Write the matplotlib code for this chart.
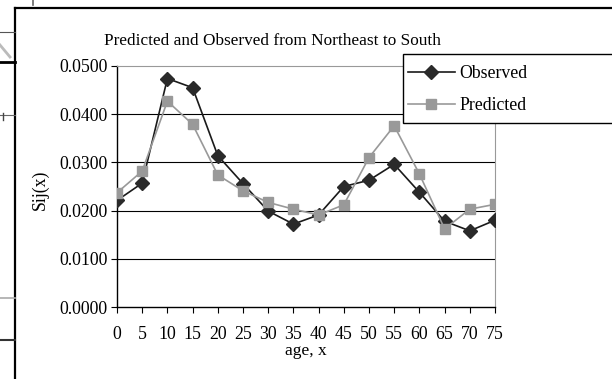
import matplotlib.pyplot as plt
from matplotlib.lines import Line2D
from matplotlib.patches import Rectangle

plt.rcParams['font.family'] = ['Liberation Serif', 'DejaVu Serif']

ages = [0, 5, 10, 15, 20, 25, 30, 35, 40, 45, 50, 55, 60, 65, 70, 75]
observed = [0.0221, 0.0257, 0.0474, 0.0455, 0.0314, 0.0256, 0.0199, 0.0172,
            0.0191, 0.0250, 0.0263, 0.0296, 0.0238, 0.0178, 0.0158, 0.0180]
predicted = [0.0237, 0.0282, 0.0427, 0.0379, 0.0274, 0.0241, 0.0217, 0.0203,
             0.0191, 0.0212, 0.0310, 0.0376, 0.0276, 0.0162, 0.0203, 0.0213]
yticks = [0.0, 0.01, 0.02, 0.03, 0.04, 0.05]

W, H = 612, 379
fig = plt.figure(figsize=(W / 100, H / 100), dpi=100)
fig.patch.set_facecolor('white')

def px(x, y):
    return x / W, 1 - y / H

# chart frame and the bits of the window behind it
fig.add_artist(Line2D([15 / W, 15 / W], [0, 1 - 7.5 / H], transform=fig.transFigure, color='black', lw=1.6))
fig.add_artist(Line2D([15 / W, 1], [1 - 7.5 / H, 1 - 7.5 / H], transform=fig.transFigure, color='black', lw=1.6))
for y, c, lw in [(32, '#555555', 0.8), (62, 'black', 2.0), (115, '#666666', 0.8),
                 (298, '#aaaaaa', 1.2), (340, '#333333', 1.5)]:
    fig.add_artist(Line2D([0, 15 / W], [1 - y / H, 1 - y / H], transform=fig.transFigure, color=c, lw=lw))
fig.add_artist(Line2D([0, 10 / W], [1 - 45 / H, 1 - 57 / H], transform=fig.transFigure, color='#bbbbbb', lw=2))
fig.add_artist(Line2D([33 / W, 33 / W], [1, 1 - 5 / H], transform=fig.transFigure, color='#666666', lw=1.2))
fig.add_artist(Line2D([3 / W, 3 / W], [1 - 113 / H, 1 - 120 / H], transform=fig.transFigure, color='#444444', lw=1))

ax = fig.add_axes([117 / W, 1 - 307 / H, (495 - 117) / W, (307 - 66) / H])
ax.set_xlim(0, 75)
ax.set_ylim(0, 0.05)

for v in yticks[1:-1]:
    ax.axhline(v, color='black', lw=0.8, zorder=1)

ax.plot(ages, observed, color='#1a1a1a', lw=1.2, marker='D', markersize=6.8,
        markerfacecolor='#2a2a2a', markeredgecolor='#2a2a2a', label='Observed', zorder=3)
ax.plot(ages, predicted, color='#999999', lw=1.2, marker='s', markersize=7,
        markerfacecolor='#999999', markeredgecolor='#999999', label='Predicted', zorder=4)

ax.set_xticks(ages)
ax.set_yticks(yticks)
ax.set_yticklabels([f'{v:.4f}' for v in yticks])
ax.tick_params(axis='both', labelsize=12.8, direction='out', length=4, width=0.8, color='black')
ax.tick_params(axis='x', pad=9.5)
ax.tick_params(axis='y', pad=3)

ax.spines['left'].set_color('black')
ax.spines['bottom'].set_color('black')
ax.spines['left'].set_linewidth(1.0)
ax.spines['bottom'].set_linewidth(1.0)
ax.spines['top'].set_color('#999999')
ax.spines['right'].set_color('#999999')

fig.text(*px(273, 41), 'Predicted and Observed from Northeast to South', fontsize=12.4,
         ha='center', va='center')
fig.text(*px(306, 351), 'age, x', fontsize=12.5, ha='center', va='center')
fig.text(*px(40, 190), 'Sij(x)', fontsize=12.8, ha='center', va='center', rotation=90)

# legend box runs off the right edge
x0, y0 = px(403, 123)
fig.add_artist(Rectangle((x0, y0), 1, 69 / H, transform=fig.transFigure,
                         facecolor='white', edgecolor='black', lw=1.0, zorder=5))
leg = fig.legend(loc='upper left', bbox_to_anchor=px(403, 60), frameon=False,
                 fontsize=12.8, handlelength=2.6, handletextpad=0.25, borderpad=0.3,
                 labelspacing=0.85, borderaxespad=0)
leg.set_zorder(6)

fig.savefig('out.png', dpi=100)
